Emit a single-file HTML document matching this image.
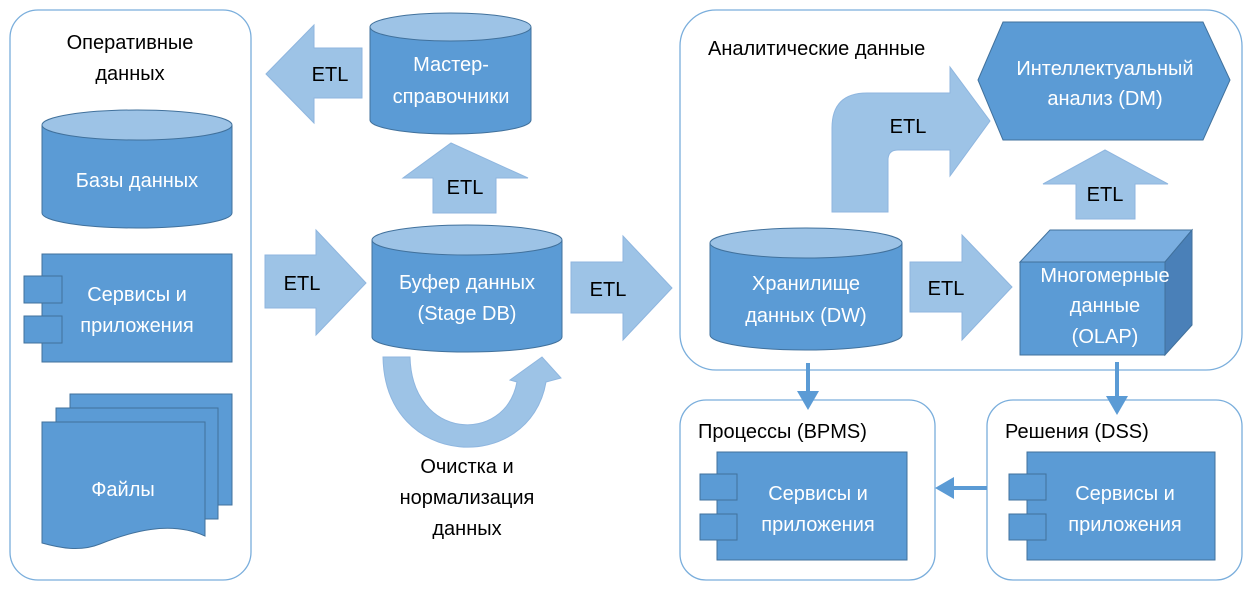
<!DOCTYPE html>
<html><head><meta charset="utf-8"><style>
html,body{margin:0;padding:0;background:#fff;}
svg{display:block}
text{font-family:"Liberation Sans",sans-serif;font-size:20px;}
.w{fill:#fff;text-anchor:middle}
.b{fill:#000;text-anchor:middle}
.bl{fill:#000}
</style></head><body>
<svg width="1252" height="592" viewBox="0 0 1252 592" xmlns="http://www.w3.org/2000/svg">
<g fill="none" stroke="#7aaedc" stroke-width="1.3">
<rect x="10" y="10" width="241" height="570" rx="28"/>
<rect x="680" y="10" width="562" height="360" rx="36"/>
<rect x="680" y="400" width="255" height="180" rx="26"/>
<rect x="987" y="400" width="255" height="180" rx="26"/>
</g>
<text class="b" x="130" y="49">Оперативные</text>
<text class="b" x="130" y="80">данных</text>
<text class="bl" x="708" y="55">Аналитические данные</text>
<text class="bl" x="698" y="438">Процессы (BPMS)</text>
<text class="bl" x="1005" y="438">Решения (DSS)</text>

<g stroke="#41719c" stroke-width="1">
<path d="M42,125 V213 A95,15 0 0 0 232,213 V125" fill="#5b9bd5"/>
<ellipse cx="137" cy="125" rx="95" ry="15" fill="#9dc3e6"/>
<path d="M370,27 V120 A80.5,14 0 0 0 531,120 V27" fill="#5b9bd5"/>
<ellipse cx="450.5" cy="27" rx="80.5" ry="14" fill="#9dc3e6"/>
<path d="M372,240 V337 A95,15 0 0 0 562,337 V240" fill="#5b9bd5"/>
<ellipse cx="467" cy="240" rx="95" ry="15" fill="#9dc3e6"/>
<path d="M710,243 V335 A96,15 0 0 0 902,335 V243" fill="#5b9bd5"/>
<ellipse cx="806" cy="243" rx="96" ry="15" fill="#9dc3e6"/>
</g>
<text class="w" x="137" y="187">Базы данных</text>
<text class="w" x="451" y="71">Мастер-</text>
<text class="w" x="451" y="103">справочники</text>
<text class="w" x="467" y="289">Буфер данных</text>
<text class="w" x="467" y="320">(Stage DB)</text>
<text class="w" x="806" y="290">Хранилище</text>
<text class="w" x="806" y="322">данных (DW)</text>

<g fill="#5b9bd5" stroke="#41719c" stroke-width="1">
<rect x="42" y="254" width="190" height="108"/>
<rect x="24" y="276" width="38" height="27"/>
<rect x="24" y="316" width="38" height="27"/>
<rect x="717" y="452" width="190" height="108"/>
<rect x="700" y="474" width="37" height="26"/>
<rect x="700" y="514" width="37" height="26"/>
<rect x="1027" y="452" width="188" height="108"/>
<rect x="1009" y="474" width="37" height="26"/>
<rect x="1009" y="514" width="37" height="26"/>
<rect x="70" y="394" width="162" height="111"/>
<rect x="56" y="408" width="162" height="111"/>
<path d="M42,422 H205 V536 C170,520 130,532 100,544 C80,552 60,548 42,543 Z"/>
</g>
<text class="w" x="137" y="301">Сервисы и</text>
<text class="w" x="137" y="332">приложения</text>
<text class="w" x="818" y="500">Сервисы и</text>
<text class="w" x="818" y="531">приложения</text>
<text class="w" x="1125" y="500">Сервисы и</text>
<text class="w" x="1125" y="531">приложения</text>
<text class="w" x="123" y="496">Файлы</text>

<g fill="#9dc3e6" stroke="#8fb6df" stroke-width="1">
<path d="M266,74 L314,25 V48 H362 V98 H314 V123 Z"/>
<path d="M451,143 L528,178 H496 V213 H433 V178 H403 Z"/>
<path d="M265,255 H316 V230 L366,283 L316,335 V308 H265 Z"/>
<path d="M571,262 H623 V236 L672,288 L623,340 V313 H571 Z"/>
<path d="M910,262 H962 V235 L1012,287 L962,340 V312 H910 Z"/>
<path d="M1105,150 L1168,184 H1135 V219 H1076 V184 H1043 Z"/>
<path d="M832,212 V128 Q832,93 867,93 H950 V67 L990,121 L950,176 V150 H898 Q888,150 888,160 V212 Z"/>
<path d="M383,357 H410 C412,440 505,445 517,382 L510,380 L542,357 L561,378 L546,382 C530,475 385,470 383,357 Z"/>
</g>
<text class="b" x="330" y="81">ETL</text>
<text class="b" x="465" y="194">ETL</text>
<text class="b" x="302" y="290">ETL</text>
<text class="b" x="608" y="296">ETL</text>
<text class="b" x="946" y="295">ETL</text>
<text class="b" x="1105" y="201">ETL</text>
<text class="b" x="908" y="133">ETL</text>

<polygon points="978,80 1003,22 1203,22 1230,80 1203,140 1003,140" fill="#5b9bd5" stroke="#41719c"/>
<text class="w" x="1105" y="75">Интеллектуальный</text>
<text class="w" x="1105" y="105">анализ (DM)</text>

<g stroke="#41719c" stroke-width="1">
<polygon points="1020,262 1050,230 1192,230 1165,262" fill="#7aaee0"/>
<polygon points="1165,262 1192,230 1192,325 1165,355" fill="#4a80b8"/>
<rect x="1020" y="262" width="145" height="93" fill="#5b9bd5"/>
</g>
<text class="w" x="1105" y="282">Многомерные</text>
<text class="w" x="1105" y="312">данные</text>
<text class="w" x="1105" y="343">(OLAP)</text>

<g stroke="#5b9bd5" stroke-width="4" fill="none">
<line x1="808" y1="363" x2="808" y2="392"/>
<line x1="1117" y1="362" x2="1117" y2="397"/>
<line x1="987" y1="488" x2="952" y2="488"/>
</g>
<g fill="#5b9bd5">
<polygon points="797,391 819,391 808,410"/>
<polygon points="1106,396 1128,396 1117,415"/>
<polygon points="954,477 954,499 935,488"/>
</g>

<text class="b" x="467" y="473">Очистка и</text>
<text class="b" x="467" y="504">нормализация</text>
<text class="b" x="467" y="535">данных</text>
</svg>
</body></html>
